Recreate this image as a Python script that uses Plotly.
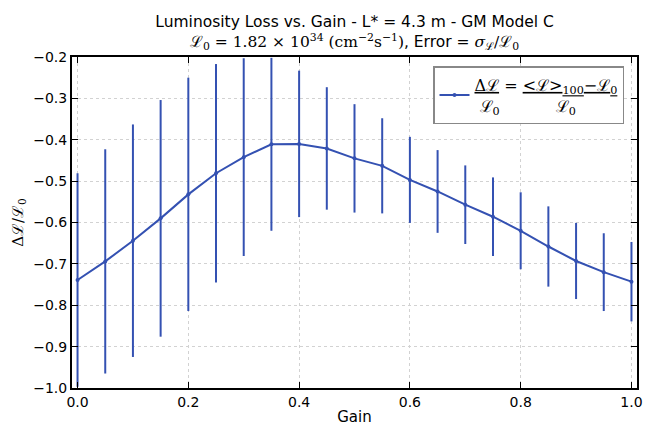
import plotly.graph_objects as go

gain = [0.0, 0.05, 0.1, 0.15, 0.2, 0.25, 0.3, 0.35, 0.4, 0.45, 0.5,
        0.55, 0.6, 0.65, 0.7, 0.75, 0.8, 0.85, 0.9, 0.95, 1.0]
lumi_loss = [-0.739, -0.694, -0.644, -0.590, -0.532, -0.481, -0.442, -0.411,
             -0.410, -0.421, -0.445, -0.463, -0.497, -0.525, -0.557, -0.586,
             -0.620, -0.658, -0.693, -0.720, -0.743]
lumi_err = [0.258, 0.271, 0.281, 0.286, 0.282, 0.264, 0.239, 0.209, 0.177,
            0.148, 0.131, 0.115, 0.104, 0.100, 0.095, 0.095, 0.093, 0.097,
            0.092, 0.094, 0.096]
x_ticks = [0.0, 0.2, 0.4, 0.6, 0.8, 1.0]
y_ticks = [-1.0, -0.9, -0.8, -0.7, -0.6, -0.5, -0.4, -0.3, -0.2]

BLUE = "#3451b2"
SERIF = "'DejaVu Serif', 'Liberation Serif', serif"
SANS = "'DejaVu Sans', sans-serif"
SP = "&#160;"

legend_name = (
    f"<u>Δℒ</u> = <u>&lt;ℒ&gt;<sub>100</sub>−ℒ<sub>0</sub></u><br>"
    f"{SP}ℒ<sub>0</sub>{SP * 11}ℒ<sub>0</sub>"
)

fig = go.Figure()
fig.add_trace(go.Scatter(
    x=gain, y=lumi_loss,
    mode="lines+markers",
    line=dict(color=BLUE, width=2),
    marker=dict(color=BLUE, size=4),
    error_y=dict(type="data", array=lumi_err, visible=True,
                 color=BLUE, thickness=2, width=0),
    name=legend_name,
    showlegend=True,
))

title_text = (
    "Luminosity Loss vs. Gain - L* = 4.3 m - GM Model C<br>"
    f"<span style=\"font-family:{SERIF}\">ℒ<sub>0</sub> = 1.82 × 10<sup>34</sup> "
    "(cm<sup>−2</sup>s<sup>−1</sup>)</span>, Error = "
    f"<span style=\"font-family:{SERIF}\"><i>σ</i><sub>ℒ</sub>/ℒ<sub>0</sub></span>"
)

axis_common = dict(
    showline=True, linecolor="black", linewidth=2, mirror="ticks",
    ticks="inside", ticklen=6, tickcolor="black", tickwidth=1,
    showgrid=True, gridcolor="#d2d2d2", griddash="dot", gridwidth=1,
    zeroline=False, tickfont=dict(family=SANS, size=14, color="black"),
    ticklabeloverflow="allow", automargin=False,
)

# The page body adds an 8px margin, so the figure is sized to fit the window.
fig.update_layout(
    width=643, height=418,
    paper_bgcolor="white", plot_bgcolor="white",
    margin=dict(l=64, r=14, t=49, b=38),
    title=dict(text=title_text, x=0.539, xanchor="center",
               y=0.9545, yanchor="top", yref="container",
               font=dict(family=SANS, size=15.5, color="black")),
    xaxis=dict(range=[-0.01, 1.01], tickvals=x_ticks, tickformat=".1f",
               title=dict(text="Gain", font=dict(family=SANS, size=15, color="black"),
                          standoff=7),
               **axis_common),
    yaxis=dict(range=[-1.0, -0.2], tickvals=y_ticks, tickformat=".1f",
               title=dict(text="Δℒ/ℒ<sub>0</sub>",
                          font=dict(family=SERIF, size=15, color="black"), standoff=6),
               **axis_common),
    legend=dict(x=0.977, y=0.972, xanchor="right", yanchor="top",
                bgcolor="white", bordercolor="#888888", borderwidth=1.5,
                itemwidth=30,
                font=dict(family=SERIF, size=16, color="black")),
    showlegend=True,
)

fig.write_html("out.html")
